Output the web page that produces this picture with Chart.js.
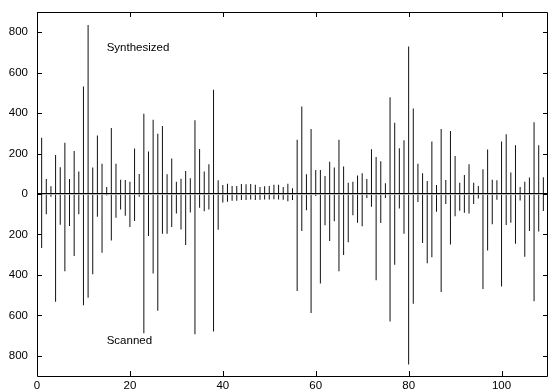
<!DOCTYPE html>
<html>
<head>
<meta charset="utf-8">
<script src="https://cdn.jsdelivr.net/npm/chart.js@4/dist/chart.umd.min.js"></script>
<style>
  html, body { margin: 0; padding: 0; background: #fff; }
  #wrap { width: 548px; height: 392px; position: relative; }
</style>
</head>
<body>
<div id="wrap"><canvas id="chart"></canvas></div>
<script>
// sample index along the x axis
const positions = [
  1, 2, 3, 4, 5, 6, 7, 8, 9, 10, 11, 12, 13, 14, 15, 16, 17, 18, 19, 20,
  21, 22, 23, 24, 25, 26, 27, 28, 29, 30, 31, 32, 33, 34, 35, 36, 37, 38, 39, 40,
  41, 42, 43, 44, 45, 46, 47, 48, 49, 50, 51, 52, 53, 54, 55, 56, 57, 58, 59, 60,
  61, 62, 63, 64, 65, 66, 67, 68, 69, 70, 71, 72, 73, 74, 75, 76, 77, 78, 79, 80,
  81, 82, 83, 84, 85, 86, 87, 88, 89, 90, 91, 92, 93, 94, 95, 96, 97, 98, 99, 100,
  101, 102, 103, 104, 105, 106, 107, 108, 109
];

// upper half (drawn upwards)
const synthesized = [
  278, 74, 38, 193, 132, 253, 74, 213, 111, 531, 836, 131, 289, 149, 35, 326, 150, 71, 69, 61,
  225, 99, 397, 210, 367, 298, 336, 98, 175, 61, 76, 114, 78, 365, 222, 111, 147, 516, 68, 45,
  51, 40, 40, 50, 48, 50, 46, 35, 38, 40, 46, 46, 35, 51, 28, 268, 433, 98, 321, 119,
  119, 89, 160, 131, 268, 136, 56, 60, 91, 102, 74, 221, 183, 162, 53, 479, 352, 226, 266, 729,
  423, 149, 102, 64, 260, 45, 321, 69, 312, 188, 56, 94, 147, 56, 40, 122, 220, 71, 68, 260,
  296, 106, 241, 35, 60, 81, 355, 241, 83
];

// lower half (drawn downwards)
const scanned = [
  267, 100, 13, 533, 152, 382, 158, 307, 100, 550, 513, 397, 112, 290, 8, 230, 117, 77, 107, 163,
  133, 13, 688, 208, 393, 577, 197, 197, 163, 97, 175, 252, 92, 693, 68, 85, 77, 680, 177, 42,
  38, 33, 33, 30, 30, 27, 30, 28, 27, 27, 26, 27, 28, 36, 30, 480, 183, 80, 588, 10,
  442, 155, 233, 135, 382, 302, 238, 105, 142, 160, 20, 63, 427, 143, 20, 630, 350, 72, 197, 843,
  543, 40, 242, 343, 313, 88, 485, 50, 250, 110, 83, 93, 97, 50, 22, 470, 279, 150, 28, 457,
  153, 142, 246, 32, 310, 183, 530, 185, 84
];

const seriesNames = ['Synthesized', 'Scanned'];
const xTicks = [0, 20, 40, 60, 80, 100];
const yTicks = [-800, -600, -400, -200, 0, 200, 400, 600, 800];

const FONT = '"Liberation Sans", Arial, sans-serif';
Chart.defaults.font.family = FONT;
Chart.defaults.font.size = 11.5;
Chart.defaults.color = '#000';

// gnuplot style frame: box round the plot, ticks pointing inwards, text labels inside
const framePlugin = {
  id: 'frame',
  afterDatasetsDraw(chart) {
    const { ctx, chartArea: a, scales: { x, y } } = chart;
    ctx.save();
    ctx.strokeStyle = '#000';
    ctx.lineWidth = 1;
    ctx.beginPath();
    ctx.rect(Math.round(a.left) + 0.5, Math.round(a.top) + 0.5,
             Math.round(a.right - a.left) - 1, Math.round(a.bottom - a.top));
    const len = 5;
    x.ticks.forEach(t => {
      const px = Math.round(x.getPixelForValue(t.value)) + 0.5;
      ctx.moveTo(px, a.bottom); ctx.lineTo(px, a.bottom - len);
      ctx.moveTo(px, a.top); ctx.lineTo(px, a.top + len);
    });
    y.ticks.forEach(t => {
      const py = Math.round(y.getPixelForValue(t.value)) + 0.5;
      ctx.moveTo(a.left, py); ctx.lineTo(a.left + len, py);
      ctx.moveTo(a.right, py); ctx.lineTo(a.right - len, py);
    });
    ctx.stroke();

    ctx.fillStyle = '#000';
    ctx.font = '11.5px ' + FONT;
    ctx.textBaseline = 'middle';
    ctx.textAlign = 'left';
    ctx.fillText(seriesNames[0], x.getPixelForValue(15), y.getPixelForValue(725));
    ctx.fillText(seriesNames[1], x.getPixelForValue(15), y.getPixelForValue(-725));
    ctx.restore();
  }
};

const barStyle = { backgroundColor: '#111', barThickness: 1, inflateAmount: 0, borderWidth: 0, grouped: false };

new Chart(document.getElementById('chart'), {
  type: 'bar',
  data: {
    datasets: [
      Object.assign({ label: seriesNames[0], data: positions.map((p, i) => ({ x: p, y: synthesized[i] })) }, barStyle),
      Object.assign({ label: seriesNames[1], data: positions.map((p, i) => ({ x: p, y: -scanned[i] })) }, barStyle)
    ]
  },
  options: {
    responsive: true,
    maintainAspectRatio: false,
    animation: false,
    layout: { padding: { top: 12, right: 0, left: 0, bottom: 0 } },
    plugins: { legend: { display: false }, tooltip: { enabled: false } },
    scales: {
      x: {
        type: 'linear',
        offset: false,
        min: 0,
        max: 110,
        afterFit: s => { s.height = 16; s.paddingLeft = 0; s.paddingRight = 0; },
        afterBuildTicks: s => { s.ticks = xTicks.map(v => ({ value: v })); },
        ticks: { padding: 3, maxRotation: 0 },
        grid: { display: false, drawTicks: false, offset: false },
        border: { display: false }
      },
      y: {
        min: -900,
        max: 900,
        afterFit: s => { s.width = 37; s.paddingTop = 0; s.paddingBottom = 0; },
        afterBuildTicks: s => { s.ticks = yTicks.map(v => ({ value: v })); },
        ticks: { padding: 9, callback: v => Math.abs(v) },
        grid: {
          drawTicks: false,
          color: c => (c.tick && c.tick.value === 0 ? '#000' : 'rgba(0,0,0,0)'),
          lineWidth: 1.3
        },
        border: { display: false }
      }
    }
  },
  plugins: [framePlugin]
});
</script>
</body>
</html>
